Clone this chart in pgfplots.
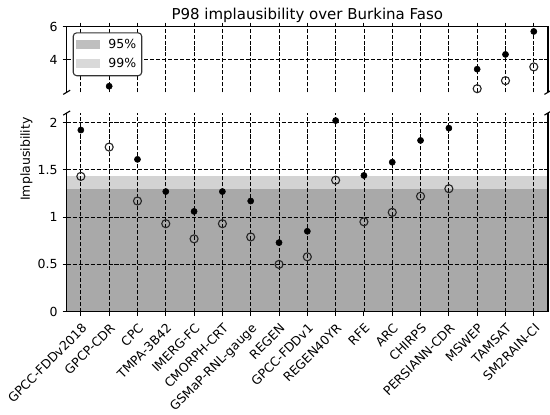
\documentclass[border=0pt]{standalone}
\usepackage{fontspec}
\setmainfont{DejaVu Sans}
\usepackage{pgfplots}
\pgfplotsset{compat=1.18}
\definecolor{c95}{HTML}{A9A9A9}
\definecolor{c99}{HTML}{D3D3D3}
\definecolor{l95}{HTML}{BFBFBF}
\definecolor{l99}{HTML}{D9D9D9}
\pgfplotsset{
  brk/.style={
    scale only axis, width=346.5pt, xmin=-0.5, xmax=16.5,
    xtick={0,...,16}, clip=false, set layers,
    axis line style={draw=none},
    tick align=outside, major tick length=3pt,
    tick style={black, line width=0.7pt},
    ytick pos=left,
    grid=major,
    major grid style={black, line width=0.6pt, dash pattern=on 2.9pt off 1.4pt},
    /pgf/number format/assume math mode=true,
    tick label style={font=\fontsize{9}{11}\selectfont},
  },
  fmark/.style={only marks, mark=*, mark size=2.2pt, black},
  omark/.style={only marks, mark=o, mark size=2.9pt, black!85, mark options={line width=0.8pt}},
}
\begin{document}
\begin{tikzpicture}
% lower panel
\begin{axis}[brk, at={(48.02pt,73.66pt)}, anchor=south west, height=143.06pt, ymin=0, ymax=2.1,
  ytick={0,0.5,1,1.5,2}, yticklabels={0,0.5,1,1.5,2},
  xtick pos=bottom,
  xticklabels={GPCC-FDDv2018,GPCP-CDR,CPC,TMPA-3B42,IMERG-FC,CMORPH-CRT,GSMaP-RNL-gauge,REGEN,GPCC-FDDv1,REGEN40YR,RFE,ARC,CHIRPS,PERSIANN-CDR,MSWEP,TAMSAT,SM2RAIN-CI},
  xticklabel style={rotate=45, anchor=north east},
]
\addplot[fill=c99, draw=none, on layer=axis background] coordinates {(-0.5,1.43) (16.5,1.43)} \closedcycle;
\addplot[fill=c95, draw=none, on layer=axis background] coordinates {(-0.5,1.30) (16.5,1.30)} \closedcycle;
\addplot[fmark] coordinates {
(0,1.92) (2,1.61) (3,1.27) (4,1.06) (5,1.27) (6,1.17) (7,0.73) (8,0.85)
(9,2.02) (10,1.44) (11,1.58) (12,1.81) (13,1.94)};
\addplot[omark] coordinates {
(0,1.43) (1,1.74) (2,1.17) (3,0.93) (4,0.77) (5,0.93) (6,0.79) (7,0.50) (8,0.58)
(9,1.39) (10,0.95) (11,1.05) (12,1.22) (13,1.30)};
\draw[black, line width=0.8pt] (rel axis cs:0,1) -- (rel axis cs:0,0) -- (rel axis cs:1,0) -- (rel axis cs:1,1);
\draw[black, line width=0.8pt] ([xshift=-2.5pt,yshift=-1.5pt]rel axis cs:0,1) -- ([xshift=2.5pt,yshift=1.5pt]rel axis cs:0,1);
\draw[black, line width=0.8pt] ([xshift=-2.5pt,yshift=-1.5pt]rel axis cs:1,1) -- ([xshift=2.5pt,yshift=1.5pt]rel axis cs:1,1);
\end{axis}
% upper panel
\begin{axis}[brk, at={(48.02pt,231.62pt)}, anchor=south west, height=47.23pt, ymin=2, ymax=6,
  ytick={4,6}, yticklabels={4,6}, xtick pos=top, xticklabels={},
  legend style={at={(0.0124,0.915)}, anchor=north west, draw=black!80, line width=0.8pt,
    rounded corners=2.5pt, font=\fontsize{9}{11}\selectfont, row sep=2.5pt,
    inner xsep=2pt, inner ysep=3pt, fill=white,
    nodes={inner xsep=2pt, inner ysep=1.5pt}},
  legend cell align=left,
]
\addlegendimage{legend image code/.code={\fill[l95, draw=none, sharp corners] (0pt,-3.1pt) rectangle (17.3pt,3.1pt); \path[draw=none, fill=none] (17.3pt,0pt) -- (21.3pt,0pt);}}
\addlegendentry{95\%}
\addlegendimage{legend image code/.code={\fill[l99, draw=none, sharp corners] (0pt,-3.1pt) rectangle (17.3pt,3.1pt); \path[draw=none, fill=none] (17.3pt,0pt) -- (21.3pt,0pt);}}
\addlegendentry{99\%}
\addplot[fmark, forget plot] coordinates {(1,2.37) (14,3.41) (15,4.31) (16,5.71)};
\addplot[omark, forget plot] coordinates {(14,2.22) (15,2.71) (16,3.55)};
\draw[black, line width=0.8pt] (rel axis cs:0,0) -- (rel axis cs:0,1) -- (rel axis cs:1,1) -- (rel axis cs:1,0);
\draw[black, line width=0.8pt] ([xshift=-2.5pt,yshift=-1.5pt]rel axis cs:0,0) -- ([xshift=2.5pt,yshift=1.5pt]rel axis cs:0,0);
\draw[black, line width=0.8pt] ([xshift=-2.5pt,yshift=-1.5pt]rel axis cs:1,0) -- ([xshift=2.5pt,yshift=1.5pt]rel axis cs:1,0);
\end{axis}
\node[anchor=base, inner sep=0pt, font=\fontsize{10.8}{13}\selectfont] at (221.27pt,284.4pt) {P98 implausibility over Burkina Faso};
\node[rotate=90, font=\fontsize{9}{11}\selectfont] at (19.1pt,183.6pt) {Implausibility};
\pgfresetboundingbox
\path[use as bounding box] (0,0) rectangle (396pt,298.08pt);
\end{tikzpicture}
\end{document}
